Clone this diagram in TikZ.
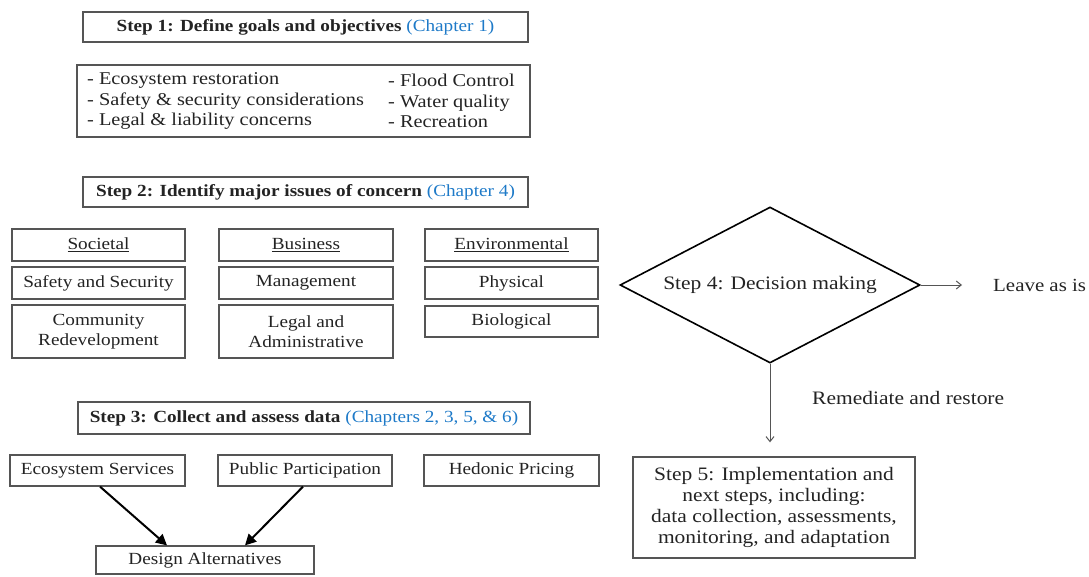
\documentclass[tikz,border=0pt]{standalone}
\usepackage{fontspec}
\setmainfont{Liberation Serif}[FakeStretch=1.13]
\usetikzlibrary{shapes.geometric,arrows.meta,calc}
\definecolor{chapblue}{RGB}{30,122,200}
\definecolor{edgegray}{RGB}{85,85,85}
\definecolor{txtgray}{RGB}{35,35,35}
\newcommand\Lfnt{\fontsize{17}{20.5}\selectfont}
\newcommand\Bfnt{\fontsize{18}{20.5}\selectfont}
\newcommand\Rfnt{\fontsize{19}{21}\selectfont}
\begin{document}
\begin{tikzpicture}[x=1pt,y=-1pt,
  bx/.style={draw=edgegray, line width=1.2pt, rectangle, inner sep=0pt,
    align=center, font=\Lfnt, text=txtgray},
  txt/.style={inner sep=0pt, font=\Bfnt, text=txtgray},
  rtxt/.style={inner sep=0pt, font=\Rfnt, text=txtgray},
  thinarrow/.style={draw=edgegray, line width=1pt, -{Straight Barb[length=5pt,width=8pt]}},
  thickarrow/.style={draw=black, line width=2pt, -{Triangle[length=11pt,width=11pt]}}]
\useasboundingbox (0,0) rectangle (1089,576);

% Step 1
\node[bx, minimum width=445pt, minimum height=30pt] (s1) at (305.5,27)
  {\textbf{Step 1: Define goals and objectives} \textcolor{chapblue}{(Chapter 1)}};
\node[bx, minimum width=453pt, minimum height=72pt] (goals) at (303.5,101) {};
\node[txt, anchor=west, align=left] (goalsL) at (87,101)
  {- Ecosystem restoration\\- Safety \& security considerations\\- Legal \& liability concerns};
\node[txt, anchor=west, align=left] (goalsR) at (388,101)
  {- Flood Control\\- Water quality\\- Recreation};

% Step 2
\node[bx, minimum width=445pt, minimum height=30pt] (s2) at (305.5,192)
  {\textbf{Step 2: Identify major issues of concern} \textcolor{chapblue}{(Chapter 4)}};
\node[bx, minimum width=173pt, minimum height=32pt] (soc) at (98.5,245) {\underline{Societal}};
\node[bx, minimum width=174pt, minimum height=32pt] (bus) at (306,245) {\underline{Business}};
\node[bx, minimum width=173pt, minimum height=32pt] (env) at (511.5,245) {\underline{Environmental}};
\node[bx, minimum width=173pt, minimum height=32pt] (saf) at (98.5,283) {Safety and Security};
\node[bx, minimum width=174pt, minimum height=32pt] (man) at (306,283) {Management};
\node[bx, minimum width=173pt, minimum height=32pt] (phy) at (511.5,283) {Physical};
\node[bx, minimum width=173pt, minimum height=53pt] (com) at (98.5,331.5) {Community\\Redevelopment};
\node[bx, minimum width=174pt, minimum height=53pt] (leg) at (306,331.5) {Legal and\\Administrative};
\node[bx, minimum width=173pt, minimum height=31pt] (bio) at (511.5,321.5) {Biological};

% Step 3
\node[bx, minimum width=452pt, minimum height=32pt] (s3) at (304,418)
  {\textbf{Step 3: Collect and assess data} \textcolor{chapblue}{(Chapters 2, 3, 5, \& 6)}};
\node[bx, minimum width=175pt, minimum height=31pt] (es) at (97.5,470.5) {Ecosystem Services};
\node[bx, minimum width=174pt, minimum height=31pt] (pp) at (305,470.5) {Public Participation};
\node[bx, minimum width=175pt, minimum height=31pt] (hp) at (511.5,470.5) {Hedonic Pricing};
\node[bx, minimum width=218pt, minimum height=28pt] (da) at (205,560) {Design Alternatives};
\draw[thickarrow] ([xshift=2.5pt]es.south) -- ([xshift=-38pt]da.north);
\draw[thickarrow] ([xshift=-2pt]pp.south) -- ([xshift=40pt]da.north);

% Step 4
\node[diamond, draw=black, line width=1.6pt, aspect=1.92, minimum width=300pt,
  minimum height=156pt, inner sep=0pt, font=\Rfnt, text=txtgray] (dm) at (770,285)
  {Step 4: Decision making};
\node[rtxt, anchor=west, font=\fontsize{18.5}{21}\selectfont] (leave) at (993,285) {Leave as is};
\path (leave.west |- dm.east) ++(-31pt,0) coordinate (lend);
\draw[thinarrow] (dm.east) -- (lend);

% Step 5
\node[bx, draw=edgegray, line width=1.3pt, minimum width=282pt, minimum height=101pt,
  font=\Rfnt] (s5) at (774,507.5)
  {Step 5: Implementation and\\next steps, including:\\data collection, assessments,\\monitoring, and adaptation};
\path (dm.south |- s5.north) ++(0,14pt) coordinate (dend);
\draw[thinarrow] (dm.south) -- (dend);
\node[rtxt, anchor=west] (rem) at (812,398) {Remediate and restore};
\end{tikzpicture}
\end{document}
